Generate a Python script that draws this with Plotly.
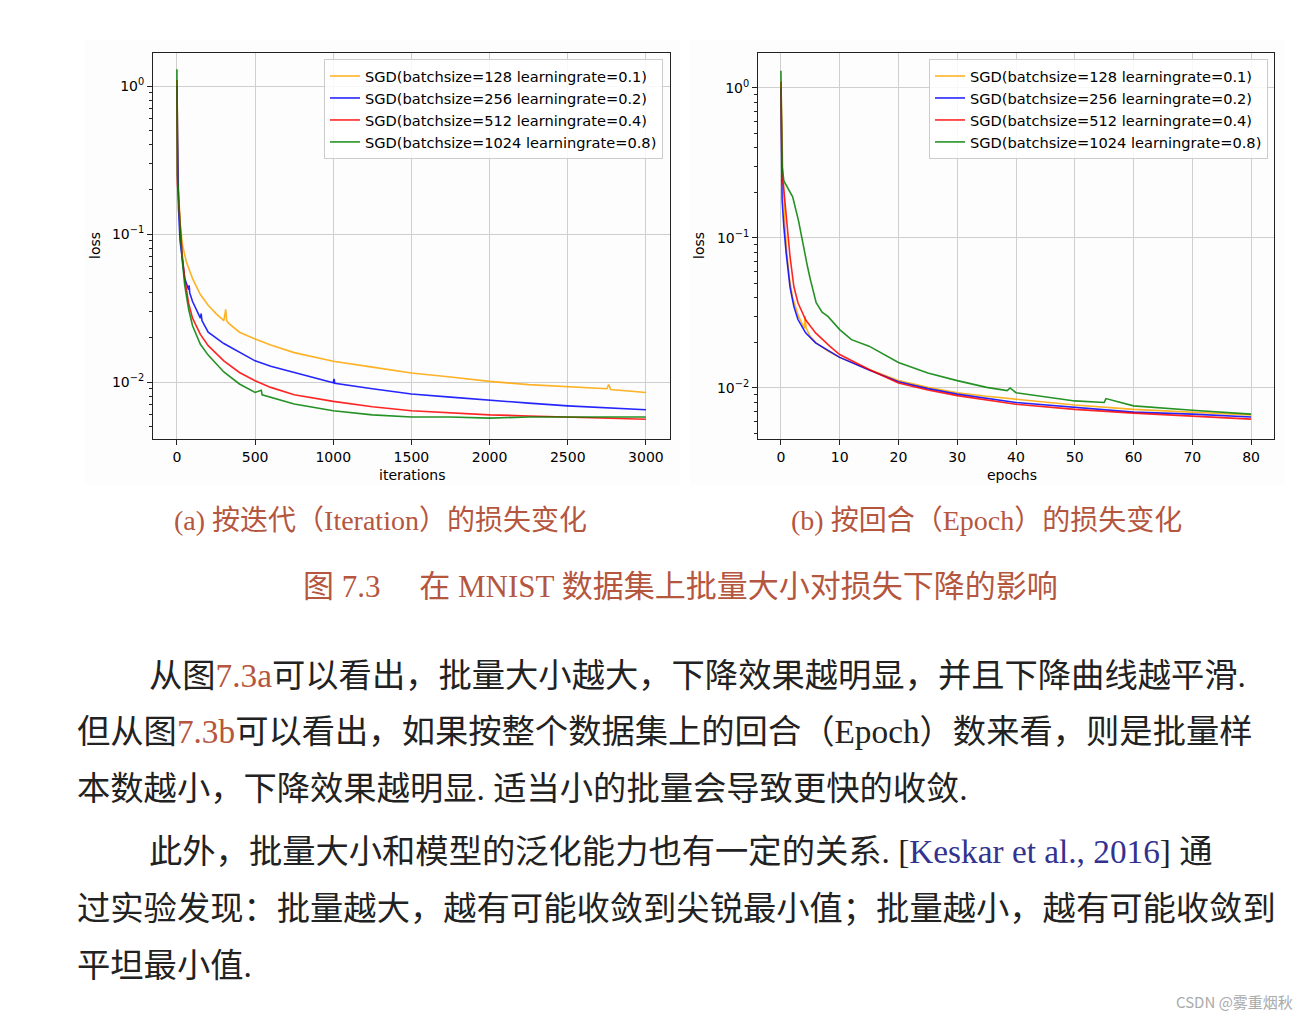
import plotly.graph_objects as go

# ---------------- data ----------------
series_names = [
    "SGD(batchsize=128 learningrate=0.1)",
    "SGD(batchsize=256 learningrate=0.2)",
    "SGD(batchsize=512 learningrate=0.4)",
    "SGD(batchsize=1024 learningrate=0.8)",
]
series_colors = ["#FFA500", "#0000FF", "#FF0000", "#008000"]

# (a) loss vs iterations
it_128_x = [0, 4, 10, 20, 35, 60, 100, 150, 200, 250, 300, 312, 318, 330, 400, 500, 600, 750, 900, 1000,
            1250, 1500, 1750, 2000, 2250, 2500, 2750, 2762, 2775, 3000]
it_128_y = [1.1, 0.5, 0.2, 0.12, 0.085, 0.065, 0.05, 0.039, 0.033, 0.029, 0.026, 0.031, 0.026, 0.025,
            0.0217, 0.0195, 0.0178, 0.0158, 0.0145, 0.0138, 0.0126, 0.0115, 0.0108, 0.0101, 0.0096,
            0.0093, 0.0090, 0.0096, 0.0089, 0.0085]
it_256_x = [0, 4, 10, 20, 35, 50, 75, 78, 82, 100, 150, 155, 160, 200, 300, 400, 500, 600, 750, 1000,
            1005, 1010, 1250, 1500, 1750, 2000, 2250, 2500, 2750, 3000]
it_256_y = [1.0, 0.4, 0.15, 0.09, 0.065, 0.05, 0.042, 0.045, 0.040, 0.035, 0.027, 0.029, 0.026, 0.0217,
            0.0182, 0.0159, 0.0139, 0.0128, 0.0116, 0.0099, 0.0105, 0.0098, 0.0090, 0.0083, 0.0079,
            0.0075, 0.0072, 0.0069, 0.0067, 0.0065]
it_512_x = [0, 3, 10, 20, 35, 50, 75, 100, 150, 200, 300, 400, 500, 600, 750, 1000, 1250, 1500, 1750,
            2000, 2250, 2500, 2750, 3000]
it_512_y = [1.1, 0.22, 0.17, 0.11, 0.07, 0.05, 0.034, 0.027, 0.021, 0.0176, 0.0139, 0.0116, 0.0102,
            0.0092, 0.0082, 0.0074, 0.0068, 0.0064, 0.0062, 0.0060, 0.0059, 0.0058, 0.0057, 0.0056]
it_1024_x = [0, 3, 10, 20, 35, 50, 75, 100, 150, 200, 300, 400, 500, 540, 545, 600, 750, 1000, 1250,
             1500, 1750, 2000, 2250, 2500, 2750, 3000]
it_1024_y = [1.3, 0.25, 0.19, 0.11, 0.065, 0.045, 0.031, 0.024, 0.018, 0.0152, 0.0117, 0.0097, 0.0085,
             0.0088, 0.0082, 0.0079, 0.0071, 0.0064, 0.0060, 0.0058, 0.0058, 0.0057, 0.0058, 0.0058,
             0.0058, 0.0058]

# (b) loss vs epochs
ep_128_x = [0, 0.3, 0.7, 1, 1.5, 2, 3, 4, 4.1, 4.3, 5, 6, 8, 10, 15, 20, 25, 30, 35, 40, 50, 60, 70, 80]
ep_128_y = [1.1, 0.3, 0.12, 0.08, 0.052, 0.040, 0.030, 0.025, 0.030, 0.025, 0.022, 0.020, 0.0176, 0.016,
            0.0133, 0.0112, 0.0101, 0.0093, 0.0088, 0.0084, 0.0077, 0.0072, 0.0069, 0.0066]
ep_256_x = [0, 0.2, 0.5, 0.9, 1.55, 2.2, 2.9, 4.2, 5.9, 8.3, 10, 15, 20, 25, 30, 40, 50, 60, 70, 80]
ep_256_y = [1.0, 0.18, 0.119, 0.079, 0.047, 0.035, 0.0286, 0.0233, 0.020, 0.0176, 0.016, 0.0132, 0.011,
            0.0099, 0.0091, 0.0080, 0.0074, 0.0069, 0.0067, 0.0064]
ep_512_x = [0, 0.2, 0.4, 0.9, 1.55, 2.2, 2.9, 4.2, 5.9, 8.3, 10, 15, 20, 25, 30, 40, 50, 60, 70, 80]
ep_512_y = [1.1, 0.24, 0.23, 0.139, 0.075, 0.0475, 0.037, 0.0285, 0.0233, 0.019, 0.0167, 0.0133, 0.0108,
            0.0097, 0.0089, 0.0078, 0.0072, 0.0068, 0.0065, 0.0062]
ep_1024_x = [0, 0.2, 0.5, 1, 2, 3, 4, 4.5, 5, 6, 7, 8, 10, 12, 15, 20, 25, 30, 35, 38.5, 39, 40, 50, 55,
             55.3, 60, 70, 80]
ep_1024_y = [1.3, 0.3, 0.24, 0.22, 0.188, 0.13, 0.079, 0.065, 0.053, 0.037, 0.032, 0.030, 0.0245, 0.021,
             0.019, 0.0148, 0.0126, 0.0112, 0.0101, 0.0096, 0.0100, 0.0093, 0.0082, 0.0080, 0.0085,
             0.0076, 0.0071, 0.0067]

iter_series = [(it_128_x, it_128_y), (it_256_x, it_256_y), (it_512_x, it_512_y), (it_1024_x, it_1024_y)]
epoch_series = [(ep_128_x, ep_128_y), (ep_256_x, ep_256_y), (ep_512_x, ep_512_y), (ep_1024_x, ep_1024_y)]

iter_ticks = [0, 500, 1000, 1500, 2000, 2500, 3000]
epoch_ticks = [0, 10, 20, 30, 40, 50, 60, 70, 80]
y_major = [0.01, 0.1, 1]
y_major_text = ["10<sup>−2</sup>", "10<sup>−1</sup>", "10<sup>0</sup>"]
y_minor = [m * d for d in (0.001, 0.01, 0.1, 1) for m in range(2, 10)]

caption_a = "(a) 按迭代（Iteration）的损失变化"
caption_b = "(b) 按回合（Epoch）的损失变化"
caption_main = "图 7.3 &#8195;在 MNIST 数据集上批量大小对损失下降的影响"

RED = "#b5563e"
BLUE = "#33338f"
body_lines = [
    (147, 675, "从图<span style='color:%s'>7.3a</span>可以看出，批量大小越大，下降效果越明显，并且下降曲线越平滑." % RED),
    (75, 731, "但从图<span style='color:%s'>7.3b</span>可以看出，如果按整个数据集上的回合（Epoch）数来看，则是批量样" % RED),
    (75, 788, "本数越小，下降效果越明显. 适当小的批量会导致更快的收敛."),
    (147, 851, "此外，批量大小和模型的泛化能力也有一定的关系. [<span style='color:%s'>Keskar et al., 2016</span>] 通" % BLUE),
    (75, 908, "过实验发现：批量越大，越有可能收敛到尖锐最小值；批量越小，越有可能收敛到"),
    (75, 965, "平坦最小值."),
]

# ---------------- figure ----------------
W, H = 1310, 1020
def px(x):
    return x / W
def py(y):
    return 1 - y / H

fig = go.Figure()
for i, (xs, ys) in enumerate(iter_series):
    fig.add_trace(go.Scatter(x=xs, y=ys, mode="lines", name=series_names[i],
                             line=dict(color=series_colors[i], width=1.6), opacity=0.85,
                             xaxis="x", yaxis="y", legend="legend"))
for i, (xs, ys) in enumerate(epoch_series):
    fig.add_trace(go.Scatter(x=xs, y=ys, mode="lines", name=series_names[i],
                             line=dict(color=series_colors[i], width=1.6), opacity=0.85,
                             xaxis="x2", yaxis="y2", legend="legend2"))

tickfont = dict(family="DejaVu Sans", size=14, color="black")
common_x = dict(showline=True, mirror=True, linecolor="#222", linewidth=1, ticks="outside", ticklen=5,
                tickcolor="#222", showgrid=True, gridcolor="#cfcfcf", gridwidth=1, zeroline=False,
                tickfont=tickfont, tickmode="array")
common_y = dict(type="log", showline=True, mirror=True, linecolor="#222", linewidth=1, ticks="outside",
                ticklen=5, tickcolor="#222", showgrid=True, gridcolor="#cfcfcf", gridwidth=1,
                zeroline=False, tickfont=tickfont, tickmode="array", tickvals=y_major, ticktext=y_major_text,
                minor=dict(tickmode="array", tickvals=y_minor, ticks="outside", ticklen=3,
                           tickcolor="#222", showgrid=False))

legend_style = dict(bgcolor="rgba(255,255,255,0.85)", bordercolor="#cccccc", borderwidth=1,
                    font=dict(family="DejaVu Sans", size=14.6, color="black"), xanchor="right",
                    yanchor="top", tracegroupgap=0, itemwidth=30)

fig.update_layout(
    width=W, height=H, margin=dict(l=0, r=0, t=0, b=0),
    paper_bgcolor="white", plot_bgcolor="white",
    xaxis=dict(domain=[px(153), px(670)], range=[-153, 3154], tickvals=iter_ticks, anchor="y", **common_x),
    yaxis=dict(domain=[py(439), py(53)], range=[-2.385, 0.223], anchor="x", **common_y),
    xaxis2=dict(domain=[px(758), px(1274)], range=[-3.9, 83.9], tickvals=epoch_ticks, anchor="y2", **common_x),
    yaxis2=dict(domain=[py(439), py(53)], range=[-2.34, 0.233], anchor="x2", **common_y),
    legend=dict(x=px(663), y=py(59), **legend_style),
    legend2=dict(x=px(1268), y=py(59), **legend_style),
    showlegend=True,
)

# faint image backgrounds of the two pasted plots
for x0, x1 in [(85, 680), (690, 1285)]:
    fig.add_shape(type="rect", xref="paper", yref="paper", x0=px(x0), x1=px(x1), y0=py(485), y1=py(40),
                  fillcolor="#fdfdfd", line=dict(width=0), layer="below")

annos = []
axfont = dict(family="DejaVu Sans", size=14, color="black")
annos.append(dict(x=px(95), y=py(246), text="loss", textangle=-90, font=axfont))
annos.append(dict(x=px(699), y=py(246), text="loss", textangle=-90, font=axfont))
annos.append(dict(x=px(412), y=py(475), text="iterations", font=axfont))
annos.append(dict(x=px(1012), y=py(475), text="epochs", font=axfont))

capfont = dict(family="Liberation Serif, Noto Sans CJK SC", size=28, color=RED)
annos.append(dict(x=px(380), y=py(520), text=caption_a, font=capfont))
annos.append(dict(x=px(986), y=py(520), text=caption_b, font=capfont))
annos.append(dict(x=px(680), y=py(586), text=caption_main,
                  font=dict(family="Liberation Serif, Noto Sans CJK SC", size=31, color=RED)))

bodyfont = dict(family="Liberation Serif, Noto Sans CJK SC", size=33.3, color="#222222")
for x, y, t in body_lines:
    annos.append(dict(x=px(x), y=py(y), text=t, xanchor="left", font=bodyfont))

annos.append(dict(x=px(1295), y=py(1001), text="CSDN @雾重烟秋", xanchor="right",
                  font=dict(family="Noto Sans CJK SC", size=15, color="#aaaaaa")))

for a in annos:
    a.setdefault("xanchor", "center")
    a.update(xref="paper", yref="paper", yanchor="middle", showarrow=False)
fig.update_layout(annotations=annos)

fig.write_html("out.html")
